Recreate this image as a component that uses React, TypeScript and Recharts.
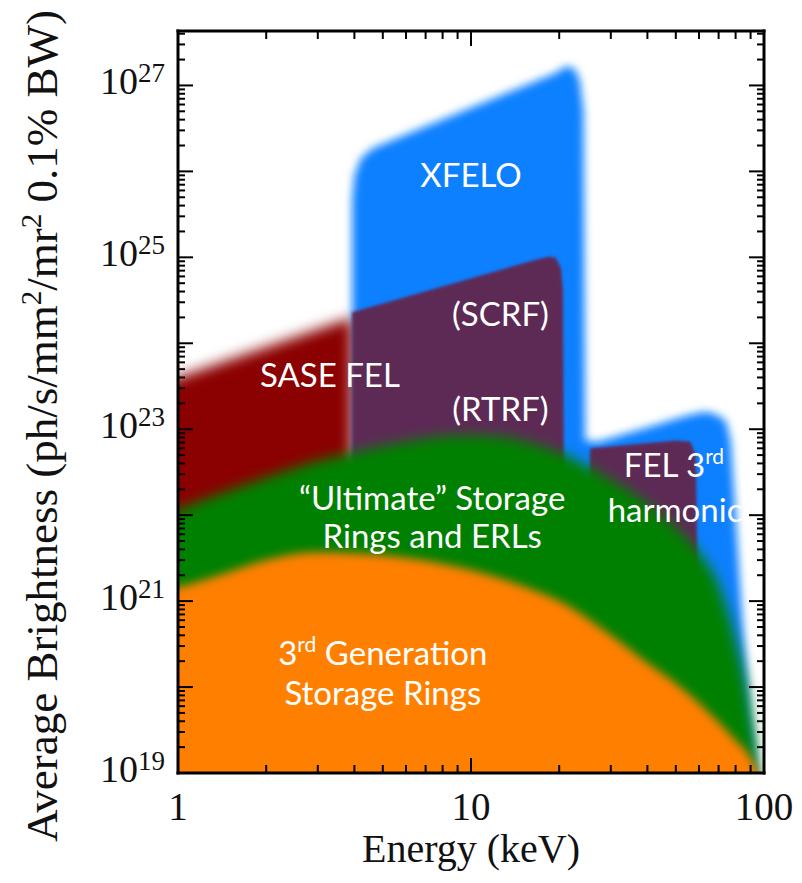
import React from 'react';
import { ComposedChart, Area, XAxis, YAxis, ReferenceDot } from 'recharts';

// energy in keV (e), average brightness (b)
const XFELO = [
  { e: 3.93, b: 4.6e25 }, { e: 4.0, b: 8.9e25 }, { e: 4.2, b: 1.4e26 }, { e: 4.6, b: 1.85e26 },
  { e: 5.2, b: 2.2e26 }, { e: 19.5, b: 1.4e27 }, { e: 21, b: 1.66e27 }, { e: 22.5, b: 1.58e27 },
  { e: 23.5, b: 1.15e27 }, { e: 24.2, b: 5.1e26 }, { e: 24.5, b: 7.4e22 }, { e: 27, b: 7.1e22 },
  { e: 40, b: 1.05e23 }, { e: 55, b: 1.45e23 }, { e: 63, b: 1.6e23 }, { e: 68, b: 1.5e23 },
  { e: 74, b: 1.26e23 }, { e: 77, b: 7.4e22 }, { e: 78.5, b: 2.6e22 }, { e: 81, b: 5.1e21 },
  { e: 84, b: 7.2e20 }, { e: 89.5, b: 5e19 }, { e: 95, b: 1e19 }, { e: 97, b: 1e17 },
];

const SASE_FEL = [
  { e: 0.8, b: 3.1e23 }, { e: 1, b: 4.0e23 }, { e: 3.93, b: 2.0e24 },
];

// SCRF / RTRF block and the FEL 3rd harmonic block
const FEL_LINAC = [
  { e: 3.93, b: 2.3e24 }, { e: 16.5, b: 9.3e24 }, { e: 18.5, b: 1.02e25 }, { e: 19.5, b: 9.8e24 },
  { e: 20.3, b: 7.4e24 }, { e: 20.6, b: 4.2e24 }, { e: 20.8, b: 1e22 }, { e: 25.2, b: 1e22 },
  { e: 25.5, b: 6.0e22 }, { e: 50, b: 7.4e22 }, { e: 56, b: 7.2e22 }, { e: 58.5, b: 5e22 },
  { e: 59.5, b: 1e21 },
];

const ULTIMATE = [
  { e: 0.8, b: 8e21 }, { e: 1, b: 1.15e22 }, { e: 1.5, b: 1.95e22 }, { e: 2, b: 2.75e22 },
  { e: 3, b: 4.3e22 }, { e: 4, b: 5.4e22 }, { e: 6, b: 7.2e22 }, { e: 8, b: 8.3e22 },
  { e: 10, b: 8.5e22 }, { e: 13, b: 8.1e22 }, { e: 17, b: 6.5e22 }, { e: 20, b: 5.4e22 },
  { e: 25, b: 3.7e22 }, { e: 30, b: 2.6e22 }, { e: 40, b: 1.38e22 }, { e: 50, b: 7.2e21 },
  { e: 60, b: 3.7e21 }, { e: 70, b: 1.55e21 }, { e: 80, b: 3.5e20 }, { e: 90, b: 5e19 },
  { e: 95, b: 1e19 }, { e: 97, b: 1e17 },
];

const THIRD_GEN = [
  { e: 0.8, b: 1.26e21 }, { e: 1, b: 1.45e21 }, { e: 1.5, b: 2.2e21 }, { e: 2, b: 3.0e21 },
  { e: 3, b: 3.7e21 }, { e: 4, b: 3.6e21 }, { e: 6, b: 3.2e21 }, { e: 10, b: 2.3e21 },
  { e: 15, b: 1.5e21 }, { e: 20, b: 1.0e21 }, { e: 30, b: 4e20 }, { e: 40, b: 1.9e20 },
  { e: 50, b: 1.1e20 }, { e: 60, b: 6.5e19 }, { e: 70, b: 3.9e19 }, { e: 80, b: 2.4e19 },
  { e: 90, b: 1.5e19 }, { e: 95, b: 1e19 }, { e: 97, b: 1e17 },
];

const ENERGY_LABELS = [1, 10, 100];
const ENERGY_MAJOR = [10];
const ENERGY_MINOR = [2, 3, 4, 5, 6, 7, 8, 9, 20, 30, 40, 50, 60, 70, 80, 90];
const BRIGHT_LABELS = [1e19, 1e21, 1e23, 1e25, 1e27];
const BRIGHT_DECADES = [1e19, 1e20, 1e21, 1e22, 1e23, 1e24, 1e25, 1e26, 1e27];
const BRIGHT_TOP = 4.3e27;
const BRIGHT_MINOR = BRIGHT_DECADES.flatMap((d) => [2, 3, 4, 5, 6, 7, 8, 9].map((k) => k * d)).filter((v) => v < BRIGHT_TOP);

// region labels: [energy, brightness at baseline, text pieces; second item true = superscript]
const REGION_LABELS: { e: number; b: number; parts: [string, boolean?][] }[] = [
  { e: 10, b: 6.5e25, parts: [['XFELO']] },
  { e: 12.6, b: 1.6e24, parts: [['(SCRF)']] },
  { e: 3.3, b: 3.1e23, parts: [['SASE FEL']] },
  { e: 12.6, b: 1.23e23, parts: [['(RTRF)']] },
  { e: 49.3, b: 2.8e22, parts: [['FEL 3'], ['rd', true]] },
  { e: 49.7, b: 8.3e21, parts: [['harmonic']] },
  { e: 7.37, b: 1.15e22, parts: [['\u201CUltimate\u201D Storage']] },
  { e: 7.37, b: 4.2e21, parts: [['Rings and ERLs']] },
  { e: 5.0, b: 1.8e20, parts: [['3'], ['rd', true], [' Generation']] },
  { e: 5.0, b: 6.2e19, parts: [['Storage Rings']] },
];

const SERIF = '"Liberation Serif", "Times New Roman", serif';
const SANS = 'Lato, "Open Sans", sans-serif';

const YTick = (props: any) => {
  const { x, y, payload } = props;
  const exp = Math.round(Math.log10(payload.value));
  return (
    <text x={x} y={y + 9} textAnchor="end" fontFamily={SERIF} fontSize={38} fill="#111">
      <tspan>10</tspan>
      <tspan dy={-12} fontSize={27}>{exp}</tspan>
    </text>
  );
};

const XTick = (props: any) => {
  const { x, y, payload } = props;
  return (
    <text x={x} y={y + 45} textAnchor="middle" fontFamily={SERIF} fontSize={39} fill="#111">
      {payload.value}
    </text>
  );
};

const NoLabel = () => <g />;

const YTitle = () => (
  <text transform="translate(57,426) rotate(-90)" textAnchor="middle" fontFamily={SERIF} fontSize={45} fill="#111">
    Average Brightness (ph/s/mm
    <tspan dy={-16} fontSize={29}>2</tspan>
    <tspan dy={16}>/mr</tspan>
    <tspan dy={-16} fontSize={29}>2</tspan>
    <tspan dy={16}> 0.1% BW)</tspan>
  </text>
);

const XTitle = () => (
  <text x={471} y={862} textAnchor="middle" fontFamily={SERIF} fontSize={40} fill="#111">
    Energy (keV)
  </text>
);

const RegionText = (props: any) => {
  const { cx, cy, parts } = props;
  if (cx == null || cy == null) return null;
  let raised = false;
  return (
    <text x={cx} y={cy} textAnchor="middle" fontFamily={SANS} fontSize={33} fill="#fff">
      {parts.map(([t, sup]: [string, boolean?], i: number) => {
        let dy = 0;
        if (sup && !raised) { dy = -13; raised = true; }
        else if (!sup && raised) { dy = 13; raised = false; }
        return (
          <tspan key={i} dy={dy} fontSize={sup ? 21 : 33}>{t}</tspan>
        );
      })}
    </text>
  );
};

const tickStroke = { stroke: '#000', strokeWidth: 2 };
const frame = { stroke: '#000', strokeWidth: 3, strokeLinecap: 'square' as const };

export default function App() {
  return (
    <div style={{ position: 'absolute', left: 0, top: 0, background: '#fff' }}>
      <style>{`
        .blur-blue .recharts-area-area { filter: url(#fBlue); }
        .blur-red .recharts-area-area { filter: url(#fRed); }
        .blur-purple .recharts-area-area { filter: url(#fPurple); }
        .blur-green .recharts-area-area { filter: url(#fGreen); }
        .blur-orange .recharts-area-area { filter: url(#fOrange); }
      `}</style>
      <svg width={0} height={0} style={{ position: 'absolute' }}>
        <defs>
          <filter id="fBlue" x="-50%" y="-50%" width="200%" height="200%"><feGaussianBlur stdDeviation={4.5} /></filter>
          <filter id="fRed" x="-50%" y="-50%" width="200%" height="200%"><feGaussianBlur stdDeviation={7} /></filter>
          <filter id="fPurple" x="-50%" y="-50%" width="200%" height="200%"><feGaussianBlur stdDeviation={1.5} /></filter>
          <filter id="fGreen" x="-50%" y="-50%" width="200%" height="200%"><feGaussianBlur stdDeviation={6.5} /></filter>
          <filter id="fOrange" x="-50%" y="-50%" width="200%" height="200%"><feGaussianBlur stdDeviation={5} /></filter>
        </defs>
      </svg>
      <ComposedChart width={802} height={883} margin={{ top: 31, right: 38, bottom: 0, left: 0 }}>
        <Area data={XFELO} dataKey="b" type="linear" fill="#0a80ff" fillOpacity={1} stroke="none"
          baseValue={1e17} dot={false} activeDot={false} className="blur-blue" isAnimationActive={false} />
        <Area data={SASE_FEL} dataKey="b" type="linear" fill="#8b0000" fillOpacity={1} stroke="none"
          baseValue={1e17} dot={false} activeDot={false} className="blur-red" isAnimationActive={false} />
        <Area data={FEL_LINAC} dataKey="b" type="linear" fill="#5d2a57" fillOpacity={1} stroke="none"
          baseValue={1e17} dot={false} activeDot={false} className="blur-purple" isAnimationActive={false} />
        <Area data={ULTIMATE} dataKey="b" type="monotoneX" fill="#008000" fillOpacity={1} stroke="none"
          baseValue={1e17} dot={false} activeDot={false} className="blur-green" isAnimationActive={false} />
        <Area data={THIRD_GEN} dataKey="b" type="monotoneX" fill="#ff7f00" fillOpacity={1} stroke="none"
          baseValue={1e17} dot={false} activeDot={false} className="blur-orange" isAnimationActive={false} />

        {REGION_LABELS.map((l, i) => (
          <ReferenceDot key={i} x={l.e} y={l.b} r={0} ifOverflow="visible"
            shape={(p: any) => <RegionText cx={p.cx} cy={p.cy} parts={l.parts} />} />
        ))}

        <XAxis dataKey="e" type="number" scale="log" domain={[1, 100]} ticks={ENERGY_LABELS} interval={0}
          allowDataOverflow height={110} axisLine={frame} tickLine={false} tickSize={0} tick={<XTick />}
          label={<XTitle />} />
        <XAxis xAxisId="bMaj" dataKey="e" type="number" scale="log" domain={[1, 100]} ticks={ENERGY_MAJOR}
          interval={0} allowDataOverflow mirror height={1} axisLine={false} tick={<NoLabel />} tickSize={15}
          tickLine={tickStroke} />
        <XAxis xAxisId="bMin" dataKey="e" type="number" scale="log" domain={[1, 100]} ticks={ENERGY_MINOR}
          interval={0} allowDataOverflow mirror height={1} axisLine={false} tick={<NoLabel />} tickSize={7}
          tickLine={tickStroke} />
        <XAxis xAxisId="tMaj" orientation="top" dataKey="e" type="number" scale="log" domain={[1, 100]}
          ticks={ENERGY_MAJOR} interval={0} allowDataOverflow mirror height={1} axisLine={frame}
          tick={<NoLabel />} tickSize={15} tickLine={tickStroke} />
        <XAxis xAxisId="tMin" orientation="top" dataKey="e" type="number" scale="log" domain={[1, 100]}
          ticks={ENERGY_MINOR} interval={0} allowDataOverflow mirror height={1} axisLine={false}
          tick={<NoLabel />} tickSize={7} tickLine={tickStroke} />

        <YAxis type="number" scale="log" domain={[1e19, BRIGHT_TOP]} ticks={BRIGHT_LABELS} interval={0}
          allowDataOverflow width={178} axisLine={frame} tickLine={false} tickSize={0} tickMargin={13}
          tick={<YTick />} label={<YTitle />} />
        <YAxis yAxisId="lMaj" type="number" scale="log" domain={[1e19, BRIGHT_TOP]} ticks={BRIGHT_DECADES}
          interval={0} allowDataOverflow mirror width={1} axisLine={false} tick={<NoLabel />} tickSize={15}
          tickLine={tickStroke} />
        <YAxis yAxisId="lMin" type="number" scale="log" domain={[1e19, BRIGHT_TOP]} ticks={BRIGHT_MINOR}
          interval={0} allowDataOverflow mirror width={1} axisLine={false} tick={<NoLabel />} tickSize={6}
          tickLine={tickStroke} />
        <YAxis yAxisId="rMaj" orientation="right" type="number" scale="log" domain={[1e19, BRIGHT_TOP]}
          ticks={BRIGHT_DECADES} interval={0} allowDataOverflow mirror width={1} axisLine={frame}
          tick={<NoLabel />} tickSize={15} tickLine={tickStroke} />
        <YAxis yAxisId="rMin" orientation="right" type="number" scale="log" domain={[1e19, BRIGHT_TOP]}
          ticks={BRIGHT_MINOR} interval={0} allowDataOverflow mirror width={1} axisLine={false}
          tick={<NoLabel />} tickSize={6} tickLine={tickStroke} />
      </ComposedChart>
    </div>
  );
}
